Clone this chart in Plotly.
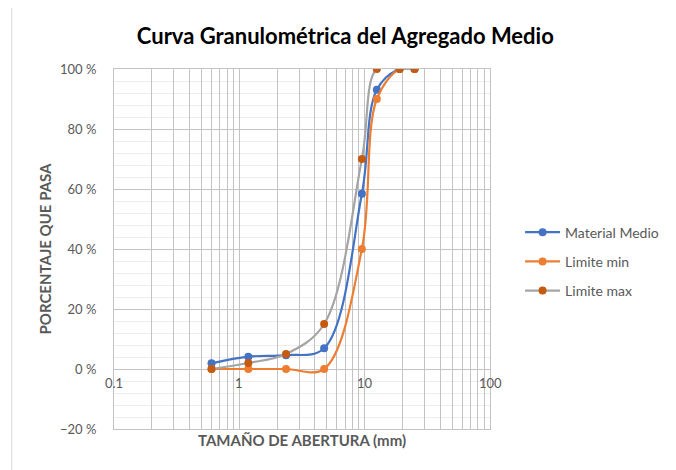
import math

import plotly.graph_objects as go

# Sieve openings (mm) and percent passing
abertura = [0.6, 1.18, 2.36, 4.75, 9.5, 12.5, 19, 25]
material_medio = [1.9, 4.1, 4.6, 6.9, 58.4, 93.1, 100, 100]
limite_min = [0, 0, 0, 0, 40, 90, 100, 100]
limite_max = [0, 2, 5, 15, 70, 100, 100, 100]

x_ticks = [0.1, 1, 10, 100]
x_tick_text = ["0.1", "1", "10", "100"]

grey_text = "#595959"
font_family = "Lato, 'Open Sans', sans-serif"

fig = go.Figure()

series = [
    ("Material Medio", material_medio, "#4472C4", "#4472C4"),
    ("Limite min", limite_min, "#ED7D31", "#ED7D31"),
    ("Limite max", limite_max, "#A5A5A5", "#C55A11"),
]

for name, values, line_color, marker_color in series:
    fig.add_trace(go.Scatter(
        x=abertura,
        y=values,
        name=name,
        legendgroup=name,
        mode="lines+markers",
        line=dict(color=line_color, width=2.2, shape="spline", smoothing=1),
        marker=dict(color=marker_color, size=8),
    ))

# vertical gridlines at 1..9 of each decade
grid_x = []
for d in [0.1, 1, 10]:
    for k in range(1, 10):
        grid_x.append(round(d * k, 4))
grid_x.append(100)

fig.update_xaxes(
    type="log",
    range=[-1, 2],
    tickvals=grid_x,
    ticktext=["" for _ in grid_x],
    showgrid=True,
    gridcolor="#C3C3C3",
    gridwidth=1,
    showline=True,
    linecolor="#C3C3C3",
    mirror=True,
    ticks="",
    zeroline=False,
    title=dict(
        text="TAMAÑO DE ABERTURA (mm)",
        font=dict(size=15, color=grey_text, family=font_family, weight="bold"),
        standoff=4,
    ),
)

fig.update_yaxes(
    range=[-20, 100],
    dtick=20,
    ticksuffix=" %",
    showgrid=True,
    gridcolor="#C3C3C3",
    gridwidth=1,
    zeroline=True,
    zerolinecolor="#C3C3C3",
    zerolinewidth=1,
    showline=True,
    linecolor="#C3C3C3",
    mirror=True,
    ticks="",
    ticklabelstandoff=14,
    tickfont=dict(size=13, color=grey_text, family=font_family),
    minor=dict(dtick=4, showgrid=True, gridcolor="#EDEDED", gridwidth=1),
    title=dict(
        text="PORCENTAJE QUE PASA",
        font=dict(size=15, color=grey_text, family=font_family, weight="bold"),
        standoff=4,
    ),
)

# x tick labels sit just below the 0 % line, as in Excel
for v, t in zip(x_ticks, x_tick_text):
    fig.add_annotation(
        x=math.log10(v), y=0, xref="x", yref="y",
        text=t, showarrow=False,
        yanchor="top", yshift=-4,
        font=dict(size=13, color=grey_text, family=font_family),
    )

# chart area border
fig.add_shape(
    type="rect", xref="paper", yref="paper",
    x0=-0.272, x1=1.5, y0=-0.2, y1=1.175,
    line=dict(color="#D9D9D9", width=1),
    layer="below",
)

# page has an 8px body margin, so the figure is 8px smaller
fig.update_layout(
    width=668,
    height=462,
    paper_bgcolor="white",
    plot_bgcolor="white",
    margin=dict(l=106, r=179, t=61, b=41),
    title=dict(
        text="Curva Granulométrica del Agregado Medio",
        x=0.505, xanchor="center",
        y=0.938, yanchor="middle",
        font=dict(size=22, color="black", family=font_family, weight="bold"),
    ),
    legend=dict(
        x=1.08, xanchor="left",
        y=0.465, yanchor="middle",
        font=dict(size=14, color=grey_text, family=font_family),
        tracegroupgap=8,
        itemwidth=35,
        bgcolor="rgba(0,0,0,0)",
    ),
    showlegend=True,
)

fig.write_html("out.html")
